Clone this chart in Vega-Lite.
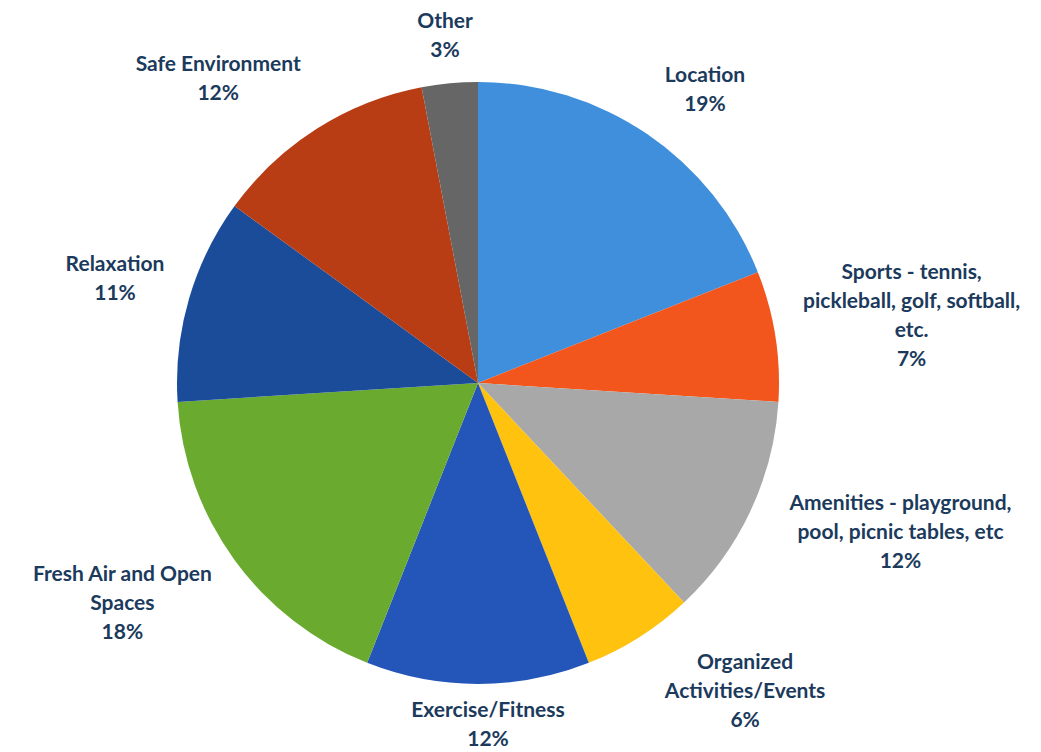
{
  "$schema": "https://vega.github.io/schema/vega-lite/v6.json",
  "width": 602,
  "height": 602,
  "autosize": {"type": "none"},
  "padding": {"left": 177, "top": 82, "right": 262, "bottom": 68},
  "background": "white",
  "config": {"view": {"stroke": null}},
  "data": {
    "values": [
      {"i": 1, "category": "Location", "pct": 19, "label": "Location\n19%"},
      {"i": 2, "category": "Sports", "pct": 7, "label": "Sports - tennis,\npickleball, golf, softball,\netc.\n7%"},
      {"i": 3, "category": "Amenities", "pct": 12, "label": "Amenities - playground,\npool, picnic tables, etc\n12%"},
      {"i": 4, "category": "Organized", "pct": 6, "label": "Organized\nActivities/Events\n6%"},
      {"i": 5, "category": "Exercise", "pct": 12, "label": "Exercise/Fitness\n12%"},
      {"i": 6, "category": "Fresh Air", "pct": 18, "label": "Fresh Air and Open\nSpaces\n18%"},
      {"i": 7, "category": "Relaxation", "pct": 11, "label": "Relaxation\n11%"},
      {"i": 8, "category": "Safe Environment", "pct": 12, "label": "Safe Environment\n12%"},
      {"i": 9, "category": "Other", "pct": 3, "label": "Other\n3%"}
    ]
  },
  "encoding": {
    "theta": {"field": "pct", "type": "quantitative", "stack": true},
    "order": {"field": "i", "type": "quantitative"}
  },
  "layer": [
    {
      "mark": {"type": "arc"},
      "encoding": {
        "color": {
          "field": "category",
          "type": "nominal",
          "sort": null,
          "legend": null,
          "scale": {
            "domain": ["Location", "Sports", "Amenities", "Organized", "Exercise", "Fresh Air", "Relaxation", "Safe Environment", "Other"],
            "range": ["#3f8fdd", "#f2561c", "#a8a8a8", "#ffc20e", "#2356b8", "#6aaa2e", "#1a4c9a", "#b83c14", "#666666"]
          }
        }
      }
    },
    {
      "mark": {"type": "text", "radius": 370, "dx": 19, "dy": -1, "font": "Lato", "fontWeight": "bold", "fontSize": 21, "lineBreak": "\n", "lineHeight": 29, "color": "#1b3a5c", "align": "center", "baseline": "middle"},
      "encoding": {"text": {"condition": {"test": "datum.category === 'Location'", "field": "label"}, "value": ""}}
    },
    {
      "mark": {"type": "text", "radius": 437, "dx": 2, "dy": -42, "font": "Lato", "fontWeight": "bold", "fontSize": 21, "lineBreak": "\n", "lineHeight": 29, "color": "#1b3a5c", "align": "center", "baseline": "middle"},
      "encoding": {"text": {"condition": {"test": "datum.category === 'Sports'", "field": "label"}, "value": ""}}
    },
    {
      "mark": {"type": "text", "radius": 447, "dx": 18, "dy": -69, "font": "Lato", "fontWeight": "bold", "fontSize": 21, "lineBreak": "\n", "lineHeight": 29, "color": "#1b3a5c", "align": "center", "baseline": "middle"},
      "encoding": {"text": {"condition": {"test": "datum.category === 'Amenities'", "field": "label"}, "value": ""}}
    },
    {
      "mark": {"type": "text", "radius": 407, "dx": 49, "dy": -64, "font": "Lato", "fontWeight": "bold", "fontSize": 21, "lineBreak": "\n", "lineHeight": 29, "color": "#1b3a5c", "align": "center", "baseline": "middle"},
      "encoding": {"text": {"condition": {"test": "datum.category === 'Organized'", "field": "label"}, "value": ""}}
    },
    {
      "mark": {"type": "text", "radius": 343, "dx": 10, "dy": -15, "font": "Lato", "fontWeight": "bold", "fontSize": 21, "lineBreak": "\n", "lineHeight": 29, "color": "#1b3a5c", "align": "center", "baseline": "middle"},
      "encoding": {"text": {"condition": {"test": "datum.category === 'Exercise'", "field": "label"}, "value": ""}}
    },
    {
      "mark": {"type": "text", "radius": 421, "dx": -15, "dy": -55, "font": "Lato", "fontWeight": "bold", "fontSize": 21, "lineBreak": "\n", "lineHeight": 29, "color": "#1b3a5c", "align": "center", "baseline": "middle"},
      "encoding": {"text": {"condition": {"test": "datum.category === 'Fresh Air'", "field": "label"}, "value": ""}}
    },
    {
      "mark": {"type": "text", "radius": 378, "dx": 0, "dy": -13, "font": "Lato", "fontWeight": "bold", "fontSize": 21, "lineBreak": "\n", "lineHeight": 29, "color": "#1b3a5c", "align": "center", "baseline": "middle"},
      "encoding": {"text": {"condition": {"test": "datum.category === 'Relaxation'", "field": "label"}, "value": ""}}
    },
    {
      "mark": {"type": "text", "radius": 399, "dx": -46, "dy": 19, "font": "Lato", "fontWeight": "bold", "fontSize": 21, "lineBreak": "\n", "lineHeight": 29, "color": "#1b3a5c", "align": "center", "baseline": "middle"},
      "encoding": {"text": {"condition": {"test": "datum.category === 'Safe Environment'", "field": "label"}, "value": ""}}
    },
    {
      "mark": {"type": "text", "radius": 350, "dx": 0, "dy": -13, "font": "Lato", "fontWeight": "bold", "fontSize": 21, "lineBreak": "\n", "lineHeight": 29, "color": "#1b3a5c", "align": "center", "baseline": "middle"},
      "encoding": {"text": {"condition": {"test": "datum.category === 'Other'", "field": "label"}, "value": ""}}
    }
  ]
}
